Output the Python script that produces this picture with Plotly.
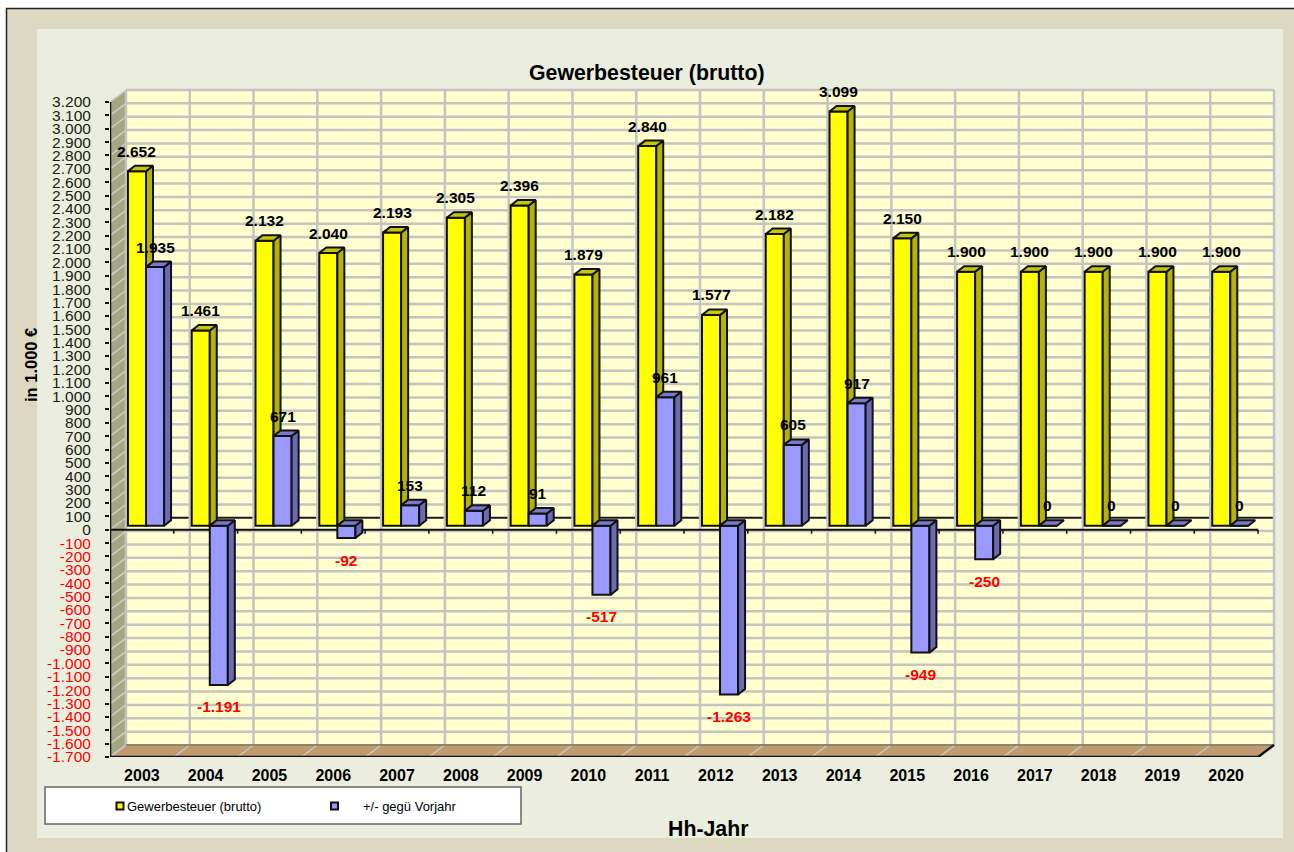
import plotly.graph_objects as go

years = list(range(2003, 2021))
brutto = [2652, 1461, 2132, 2040, 2193, 2305, 2396, 1879, 2840, 1577, 2182, 3099, 2150, 1900, 1900, 1900, 1900, 1900]
delta = [1935, -1191, 671, -92, 153, 112, 91, -517, 961, -1263, 605, 917, -949, -250, 0, 0, 0, 0]
y_ticks = list(range(-1700, 3201, 100))
series_names = ["Gewerbesteuer (brutto)", "+/- gegü Vorjahr"]

W, H = 1294, 852
AX_L, AX_B, AX_T = 110, 757, 102
PLOT_R, PLOT_T = 1285, 82
CAT_PX = 63.78
UNIT_PX = (AX_B - AX_T) / 4900
DX, DY = 16 / CAT_PX, 12 / UNIT_PX      # wall depth in data units
BX, BY = 7 / CAT_PX, 5.5 / UNIT_PX      # bar depth in data units
BASE = 4 / UNIT_PX                      # bars stand slightly behind the front axis
BAR_W = 0.283
CENTERS = (0.423, 0.706)
FONT = "Liberation Sans, Arial, sans-serif"
xr = [0, (PLOT_R - AX_L) / CAT_PX]
yr = [-1700, -1700 + (AX_B - PLOT_T) / UNIT_PX]
N = len(years)


def fmt(v):
    return f"{v:,}".replace(",", ".")


def px(x):
    return (x - AX_L) / (PLOT_R - AX_L)


def py(y):
    return (AX_B - y) / (AX_B - PLOT_T)


def poly(pts, **kw):
    path = "M" + " L".join(f"{a},{b}" for a, b in pts) + " Z"
    return dict(type="path", path=path, layer="below", **kw)


shapes = []
# page frame (paper coordinates)
shapes.append(dict(type="rect", xref="paper", yref="paper", layer="below",
                   x0=px(6.5), x1=px(1298), y0=py(8.5), y1=py(858),
                   fillcolor="#DDD8C2", line=dict(color="#222222", width=1.5)))
shapes.append(dict(type="rect", xref="paper", yref="paper", layer="below",
                   x0=px(37), x1=px(1283), y0=py(29), y1=py(838),
                   fillcolor="#EBEEDF", line=dict(width=0)))
# walls and floor
shapes.append(dict(type="rect", layer="below", x0=DX, x1=N + DX, y0=-1700 + DY, y1=3200 + DY,
                   fillcolor="#FFFFD0", line=dict(width=0)))
shapes.append(poly([(0, -1700), (DX, -1700 + DY), (DX, 3200 + DY), (0, 3200)],
                   fillcolor="#A6A685", line=dict(width=0)))
shapes.append(poly([(0, -1700), (DX, -1700 + DY), (N + DX, -1700 + DY), (N, -1700)],
                   fillcolor="#C09B72", line=dict(width=0)))
GRID = dict(color="#C4C4C0", width=2.5)
for v in y_ticks:
    if v > -1700:
        shapes.append(dict(type="line", layer="below", x0=DX, x1=N + DX, y0=v + DY, y1=v + DY,
                           line=GRID if v != 0 else dict(color="#1A1A1A", width=2)))
    shapes.append(dict(type="line", layer="below", x0=0, x1=DX, y0=v, y1=v + DY,
                       line=dict(color="#CFCFC8", width=1.5)))
for i in range(N + 1):
    shapes.append(dict(type="line", layer="below", x0=i + DX, x1=i + DX, y0=-1700 + DY, y1=3200 + DY, line=GRID))
    shapes.append(dict(type="line", layer="below", x0=i, x1=i + DX, y0=-1700, y1=-1700 + DY,
                       line=dict(color="#C8C8C0", width=1.5)))
shapes.append(dict(type="line", layer="below", x0=DX, x1=N + DX, y0=-1700 + DY, y1=-1700 + DY,
                   line=dict(color="#8F8672", width=2)))
# front axes
AX = dict(color="#111111", width=2.5)
shapes.append(dict(type="line", layer="below", x0=0, x1=0, y0=-1700, y1=3200, line=AX))
shapes.append(dict(type="line", layer="below", x0=0, x1=N, y0=-1700, y1=-1700, line=AX))
shapes.append(dict(type="line", layer="below", x0=N, x1=N + DX, y0=-1700, y1=-1700 + DY, line=AX))
shapes.append(dict(type="line", layer="below", x0=0, x1=N, y0=0, y1=0, line=dict(color="#111111", width=2)))
for i in range(1, N + 1):
    shapes.append(dict(type="line", layer="below", x0=i, x1=i, y0=0, y1=-4 / UNIT_PX,
                       line=dict(color="#111111", width=1.5)))
# legend box
shapes.append(dict(type="rect", xref="paper", yref="paper", layer="above",
                   x0=px(45), x1=px(521), y0=py(787), y1=py(824),
                   fillcolor="white", line=dict(color="#666666", width=1.5)))
for x0, c in ((116.5, "#FFFF00"), (331, "#9999FF")):
    shapes.append(dict(type="rect", xref="paper", yref="paper", layer="above",
                       x0=px(x0), x1=px(x0 + 7), y0=py(802.5), y1=py(809.5),
                       fillcolor=c, line=dict(color="#111111", width=2)))

fig = go.Figure()


def add_series(values, center, front, side, top, name, xa, ya):
    xs = [i + center for i in range(N)]
    sx, sy, tx, ty = [], [], [], []
    for x, v in zip(xs, values):
        l, r = x - BAR_W / 2, x + BAR_W / 2
        hi, lo = max(BASE, BASE + v), min(BASE, BASE + v)
        if hi > lo:
            sx += [r, r + BX, r + BX, r, r, None]
            sy += [lo, lo + BY, hi + BY, hi, lo, None]
        tx += [l, l + BX, r + BX, r, l, None]
        ty += [hi, hi + BY, hi + BY, hi, hi, None]
    line = dict(color="#111111", width=2)
    fig.add_trace(go.Bar(x=xs, y=values, base=BASE, width=BAR_W, name=name, xaxis=xa, yaxis=ya,
                         marker=dict(color=front, line=line), hoverinfo="skip"))
    fig.add_trace(go.Scatter(x=sx, y=sy, mode="lines", fill="toself", fillcolor=side, line=line,
                             xaxis=xa, yaxis=ya, hoverinfo="skip"))
    fig.add_trace(go.Scatter(x=tx, y=ty, mode="lines", fill="toself", fillcolor=top, line=line,
                             xaxis=xa, yaxis=ya, hoverinfo="skip"))


add_series(brutto, CENTERS[0], "#FFFF00", "#B3B300", "#C8C800", series_names[0], "x", "y")
add_series(delta, CENTERS[1], "#9999FF", "#6B6BB3", "#7878CC", series_names[1], "x2", "y2")

ann = []
for i, v in enumerate(brutto):
    ann.append(dict(x=i + CENTERS[0], y=BASE + v, yshift=20, text=fmt(v), showarrow=False,
                    font=dict(family=FONT, size=15.5, color="#000000", weight="bold")))
for i, v in enumerate(delta):
    ann.append(dict(x=i + CENTERS[1], y=BASE + v, yshift=20 if v >= 0 else -22, text=fmt(v), showarrow=False,
                    font=dict(family=FONT, size=15.5, color="#000000" if v >= 0 else "#FF0000", weight="bold")))


def label(x, y, text, size, bold=True, angle=0, color="#000000", anchor="center"):
    ann.append(dict(xref="paper", yref="paper", x=px(x), y=py(y), text=text, showarrow=False, textangle=angle,
                    xanchor=anchor, yanchor="middle", borderpad=0,
                    font=dict(family=FONT, size=size, color=color, weight="bold" if bold else "normal")))


label(646.5, 73, "Gewerbesteuer (brutto)", 21.3)
label(708, 829, "Hh-Jahr", 21.3)
label(31, 365, "in 1.000 €", 16.5, angle=-90)
label(125.5, 806, series_names[0], 13, bold=False, anchor="left")
label(361.5, 806, series_names[1], 13, bold=False, anchor="left")

y_text = [f'<span style="color:#FF0000">{fmt(v)}</span>' if v < 0 else fmt(v) for v in y_ticks]

fig.update_layout(
    width=W, height=H, autosize=False, showlegend=False, barmode="overlay",
    paper_bgcolor="white", plot_bgcolor="rgba(0,0,0,0)",
    margin=dict(l=AX_L, r=W - PLOT_R, t=PLOT_T, b=H - AX_B, pad=0),
    font=dict(family=FONT),
    shapes=shapes, annotations=ann,
    xaxis=dict(range=xr, tickmode="array", tickvals=[i + 0.5 for i in range(N)], ticktext=[str(y) for y in years],
               showgrid=False, zeroline=False, showline=False, ticks="outside", ticklen=4, tickcolor="rgba(0,0,0,0)",
               tickangle=0, tickfont=dict(family=FONT, size=16, color="#000000", weight="bold")),
    yaxis=dict(range=yr, tickmode="array", tickvals=y_ticks, ticktext=y_text,
               showgrid=False, zeroline=False, showline=False, ticks="outside", ticklen=4, tickcolor="#111111",
               tickwidth=2, ticklabelstandoff=11, tickfont=dict(family=FONT, size=15.5, color="#1A1A1A")),
    xaxis2=dict(range=xr, overlaying="x", visible=False, anchor="y2"),
    yaxis2=dict(range=yr, overlaying="y", visible=False, anchor="x2"),
)

fig.write_html("out.html", config=dict(displayModeBar=False),
               post_script="document.body.style.margin='0';document.body.style.overflow='hidden';")
